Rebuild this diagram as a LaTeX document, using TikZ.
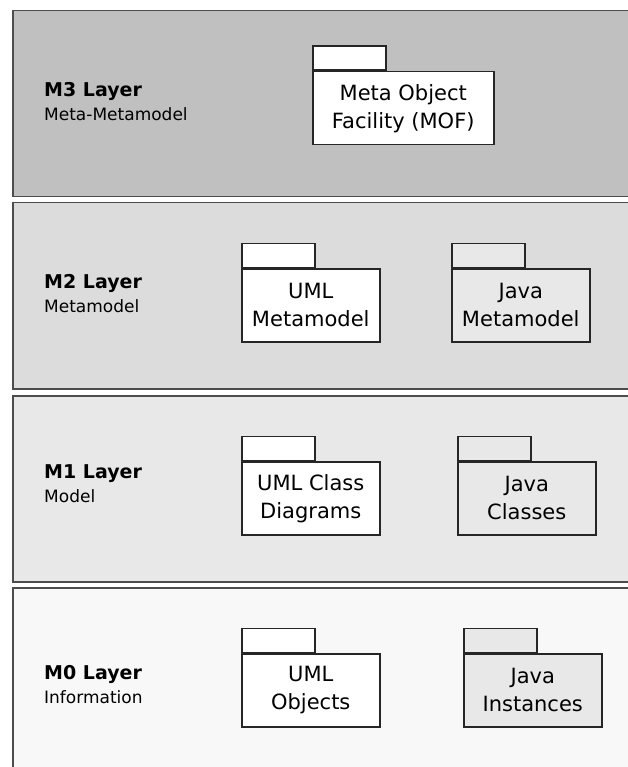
\documentclass[tikz,border=0pt]{standalone}
\usepackage{fontspec}
\setmainfont{DejaVu Sans}
\usetikzlibrary{positioning}
\definecolor{mthree}{HTML}{C0C0C0}
\definecolor{mtwo}{HTML}{DCDCDC}
\definecolor{mone}{HTML}{E8E8E8}
\definecolor{mzero}{HTML}{F8F8F8}
\definecolor{javagray}{HTML}{E8E8E8}

\begin{document}
\begin{tikzpicture}[x=1pt, y=-1pt,
  layer/.style={rectangle, draw=black!70, line width=1.5pt, anchor=north west, minimum width=640pt, minimum height=186pt, inner sep=0pt},
  title/.style={anchor=base west, inner sep=0pt, font=\fontsize{19}{22}\selectfont\bfseries},
  subtitle/.style={anchor=base west, inner sep=0pt, font=\fontsize{17}{20}\selectfont},
  pkg/.style={rectangle, draw=black!85, line width=1.5pt, fill=white, anchor=north west, minimum width=138pt, minimum height=73pt, inner sep=0pt, align=center, font=\fontsize{21}{28}\selectfont},
  tab/.style={rectangle, draw=black!85, line width=1.5pt, fill=white, anchor=south west, minimum width=73pt, minimum height=24pt, inner sep=0pt}
]
\useasboundingbox (0,0) rectangle (628,767);
\clip (0,0) rectangle (628,767);
\fill[white] (0,0) rectangle (628,767);

\node[layer, fill=mthree] (m3) at (12,10) {};
\node[layer, fill=mtwo] (m2) at (12,202) {};
\node[layer, fill=mone] (m1) at (12,395) {};
\node[layer, fill=mzero] (m0) at (12,587) {};

\node[title] (m3t) at (44,97) {M3 Layer};
\node[subtitle] (m3s) at ([yshift=-24pt]m3t.base west) {Meta-Metamodel};
\node[title] (m2t) at (44,288) {M2 Layer};
\node[subtitle] (m2s) at ([yshift=-24pt]m2t.base west) {Metamodel};
\node[title] (m1t) at (44,478) {M1 Layer};
\node[subtitle] (m1s) at ([yshift=-24pt]m1t.base west) {Model};
\node[title] (m0t) at (44,679) {M0 Layer};
\node[subtitle] (m0s) at ([yshift=-24pt]m0t.base west) {Information};

\node[pkg, minimum width=181pt] (mof) at (312,71) {Meta Object\\Facility (MOF)};
\node[tab] (moftab) at (mof.north west) {};

\node[pkg] (umlmeta) at (241,268) {UML\\Metamodel};
\node[tab] (umlmetatab) at (umlmeta.north west) {};
\node[pkg, fill=javagray] (javameta) at (451,268) {Java\\Metamodel};
\node[tab, fill=javagray] (javametatab) at (javameta.north west) {};

\node[pkg] (umlclass) at (241,461) {UML Class\\Diagrams};
\node[tab] (umlclasstab) at (umlclass.north west) {};
\node[pkg, fill=javagray] (javaclass) at (457,461) {Java\\Classes};
\node[tab, fill=javagray] (javaclasstab) at (javaclass.north west) {};

\node[pkg] (umlobj) at (241,653) {UML\\Objects};
\node[tab] (umlobjtab) at (umlobj.north west) {};
\node[pkg, fill=javagray] (javainst) at (463,653) {Java\\Instances};
\node[tab, fill=javagray] (javainsttab) at (javainst.north west) {};
\end{tikzpicture}
\end{document}
